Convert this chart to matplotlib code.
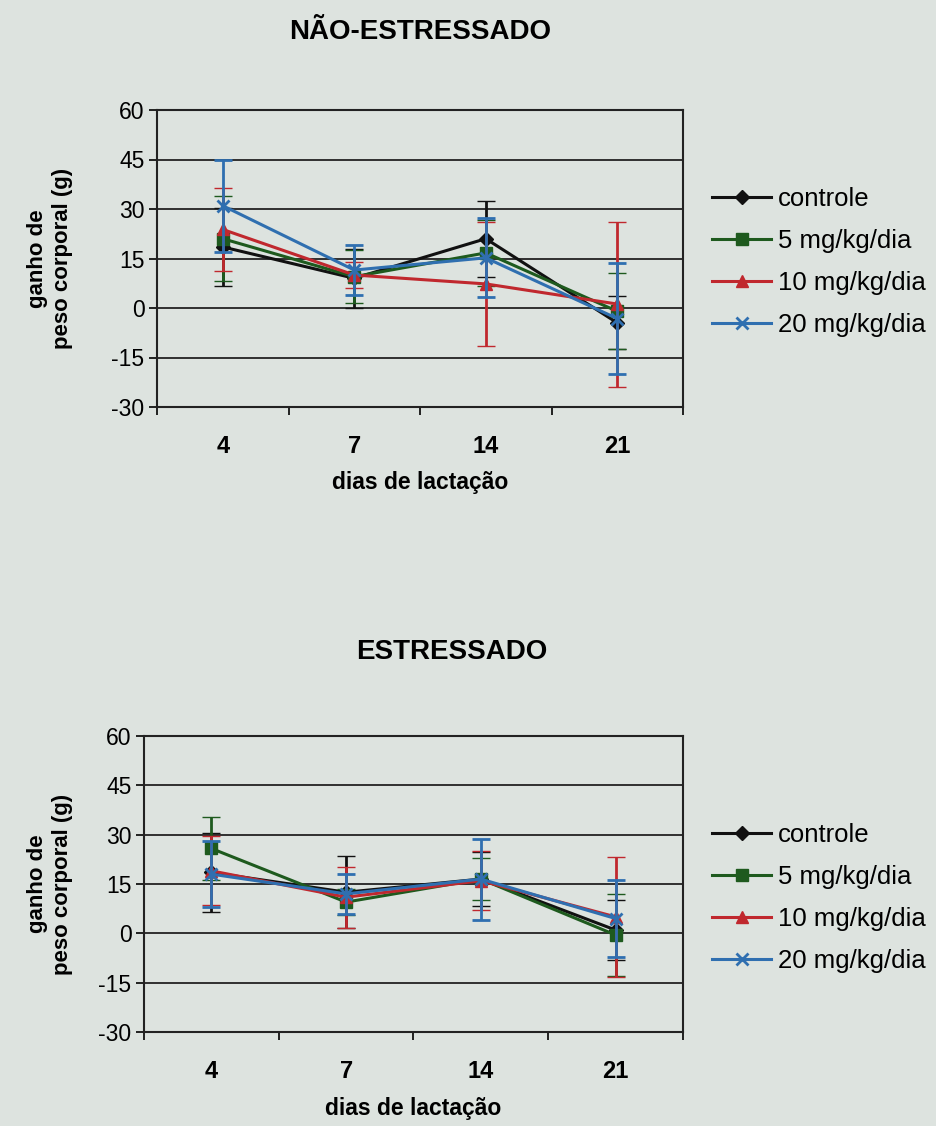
import matplotlib
matplotlib.use("Agg")
import matplotlib.pyplot as plt
from matplotlib.lines import Line2D
import numpy as np

plt.rcParams['font.family'] = ['Liberation Sans', 'DejaVu Sans']
plt.rcParams['axes.unicode_minus'] = False

days = ["4", "7", "14", "21"]
series_names = ["controle", "5 mg/kg/dia", "10 mg/kg/dia", "20 mg/kg/dia"]

# NÃO-ESTRESSADO
ns_controle = [18.5, 9.0, 21.0, -4.5]
ns_controle_sd = [11.8, 9.0, 11.5, 8.0]
ns_5mg = [21.0, 9.5, 16.7, -1.0]
ns_5mg_sd = [12.8, 8.0, 10.0, 11.5]
ns_10mg = [23.8, 10.0, 7.3, 1.2]
ns_10mg_sd = [12.6, 4.0, 18.8, 25.0]
ns_20mg = [31.0, 11.5, 15.2, -3.2]
ns_20mg_sd = [14.0, 7.5, 12.0, 16.8]

# ESTRESSADO
st_controle = [18.5, 12.5, 16.5, 1.0]
st_controle_sd = [12.0, 11.0, 8.3, 9.0]
st_5mg = [25.8, 9.5, 16.5, -0.5]
st_5mg_sd = [9.7, 4.0, 6.5, 12.5]
st_10mg = [19.0, 11.0, 16.0, 5.0]
st_10mg_sd = [10.5, 9.3, 9.0, 18.2]
st_20mg = [18.0, 12.0, 16.5, 4.5]
st_20mg_sd = [10.0, 6.0, 12.3, 11.6]

colors = ['#111111', '#1e5a1e', '#c0282e', '#2f6fb0']
markers = ['D', 's', '^', 'x']
msizes = [7.5, 8, 8.5, 9]

bg = '#dde3df'
W, H = 937, 1126
fig = plt.figure(figsize=(W / 100, H / 100), dpi=100, facecolor=bg)


def make_panel(rect, means, sds, title, title_xy, xlabel_y, leg_y):
    ax = fig.add_axes(rect, facecolor=bg)
    x = np.arange(len(days))
    handles = []
    for i, (m, s) in enumerate(zip(means, sds)):
        mew = 2 if markers[i] == 'x' else 1
        ax.errorbar(x, m, yerr=s, color=colors[i], marker=markers[i],
                    markersize=msizes[i], markeredgewidth=mew,
                    linewidth=2.2, elinewidth=2, capsize=6.5, capthick=2.3,
                    zorder=3 + i)
        handles.append(Line2D([], [], color=colors[i], marker=markers[i],
                              markersize=msizes[i], markeredgewidth=mew,
                              linewidth=2.2, label=series_names[i]))
    ax.set_xlim(-0.5, 3.5)
    ax.set_ylim(-30, 60)
    ax.set_yticks(np.arange(-30, 61, 15))
    ax.yaxis.grid(True, color='#222222', linewidth=1.3)
    ax.set_axisbelow(True)
    ax.set_xticks(x)
    ax.set_xticklabels(days, fontsize=17, fontweight='bold')
    ax.tick_params(axis='x', which='major', length=0, pad=20)
    ax.set_xticks([-0.5, 0.5, 1.5, 2.5, 3.5], minor=True)
    ax.tick_params(axis='x', which='minor', length=6, width=1.2, direction='out')
    ax.tick_params(axis='y', labelsize=16.5, length=6, width=1.2, pad=3)
    for sp in ax.spines.values():
        sp.set_linewidth(1.5)
        sp.set_color('#222222')
    fig.text(title_xy[0] / W, 1 - title_xy[1] / H, title, fontsize=20,
             fontweight='bold', ha='center', va='center')
    cx = rect[0] + rect[2] / 2
    fig.text(cx, 1 - xlabel_y / H, 'dias de lactação', fontsize=16.5,
             fontweight='bold', ha='center', va='center')
    cy = rect[1] + rect[3] / 2
    fig.text(50 / W, cy, 'ganho de\npeso corporal (g)', fontsize=16,
             fontweight='bold', ha='center', va='center', rotation=90,
             linespacing=1.3)
    fig.legend(handles=handles, loc='center left',
               bbox_to_anchor=(712 / W, 1 - leg_y / H), frameon=False,
               fontsize=18.5, handlelength=2.3, handletextpad=0.25,
               labelspacing=0.7, borderaxespad=0, borderpad=0)
    return ax


def rect_from_px(left, right, top, bottom):
    return [left / W, 1 - bottom / H, (right - left) / W, (bottom - top) / H]


make_panel(rect_from_px(157, 683, 110, 407),
           [ns_controle, ns_5mg, ns_10mg, ns_20mg],
           [ns_controle_sd, ns_5mg_sd, ns_10mg_sd, ns_20mg_sd],
           'NÃO-ESTRESSADO', (420, 32), 483, 262)

make_panel(rect_from_px(144, 683, 736, 1032),
           [st_controle, st_5mg, st_10mg, st_20mg],
           [st_controle_sd, st_5mg_sd, st_10mg_sd, st_20mg_sd],
           'ESTRESSADO', (452, 652), 1108, 898)

fig.savefig('out.png', dpi=100, facecolor=bg)
